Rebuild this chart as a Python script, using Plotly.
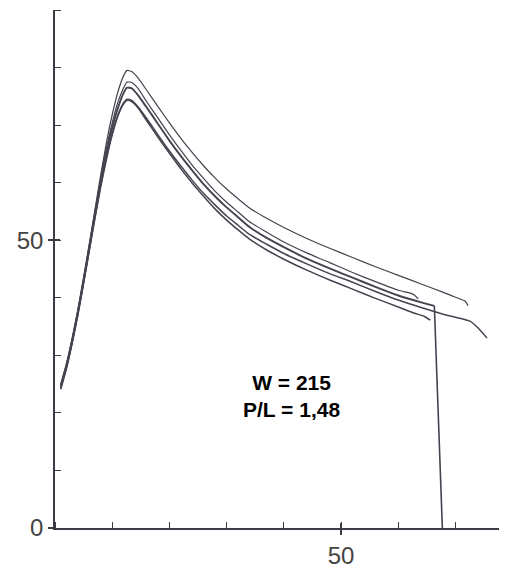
import plotly.graph_objects as go

# ---- data ----
x_grid = [1, 2, 3, 4, 5, 6, 7, 8, 9, 10, 11, 12, 12.6, 13.4, 14.5, 16, 18, 20, 22, 24, 26, 28,
          30, 32, 34, 37, 40, 44, 48, 52, 56, 60, 64, 68]

a_x = x_grid + [70, 71.7, 72.2]
a_y = [25.0, 28.6, 33.0, 38.0, 43.6, 49.4, 55.4, 61.4, 67.0, 71.8, 75.8, 78.6, 79.5, 79.3, 78.2,
       76.1, 73.2, 70.4, 67.7, 65.2, 62.9, 60.8, 58.9, 57.2, 55.6, 53.8, 52.2, 50.3, 48.6, 47.0,
       45.4, 43.9, 42.4, 40.9, 40.1, 39.4, 38.6]

b_x = x_grid[:32] + [62.1, 62.8, 63.5]
b_y = [24.8, 28.4, 32.8, 37.8, 43.3, 49.1, 55.0, 60.8, 66.0, 70.4, 74.0, 76.5, 77.5, 77.4, 76.4,
       74.1, 71.2, 68.3, 65.6, 63.0, 60.7, 58.5, 56.6, 54.9, 53.2, 51.4, 49.7, 47.8, 46.1, 44.4,
       42.8, 41.3, 40.8, 40.5, 39.8]

c_x = x_grid[:33] + [66.3]
c_y = [24.5, 28.1, 32.5, 37.5, 43.0, 48.8, 54.6, 60.3, 65.4, 69.6, 73.0, 75.6, 76.5, 76.4, 75.2,
       73.1, 70.2, 67.3, 64.6, 62.1, 59.7, 57.6, 55.7, 54.0, 52.3, 50.4, 48.8, 46.8, 45.1, 43.5,
       41.9, 40.4, 39.2, 38.6]
c_drop_x = [66.3, 67.7]
c_drop_y = [38.6, 0]

d_x = x_grid + [70.5, 72.6, 74.0, 75.5]
d_y = [24.3, 27.9, 32.3, 37.2, 42.7, 48.4, 54.1, 59.6, 64.4, 68.6, 71.8, 73.9, 74.5, 74.3, 73.2,
       71.2, 68.3, 65.5, 62.9, 60.4, 58.1, 56.1, 54.2, 52.6, 51.0, 49.3, 47.7, 45.9, 44.2, 42.7,
       41.1, 39.6, 38.3, 37.1, 36.5, 35.9, 34.7, 33.0]

e_x = x_grid[:32] + [62.9, 64.5, 65.6]
e_y = [24.1, 27.7, 32.1, 37.0, 42.5, 48.2, 53.9, 59.3, 64.1, 68.3, 71.6, 73.7, 74.3, 74.1, 73.0,
       70.8, 67.9, 65.1, 62.4, 59.9, 57.6, 55.4, 53.5, 51.8, 50.2, 48.3, 46.7, 44.8, 43.1, 41.5,
       39.9, 38.4, 37.3, 36.8, 36.1]

y_tickvals = [0, 50]
y_ticktext = ["0", "50"]
x_tickvals = [50]
x_ticktext = ["50"]
annotation_text = "<b>W = 215<br>P/L = 1,48</b>"

LINE = "#45434f"
AXIS = "#3c3c44"
TXT = "#444444"

fig = go.Figure()
for xs, ys, w in [(a_x, a_y, 1.2), (b_x, b_y, 1.2), (c_x, c_y, 1.9), (d_x, d_y, 1.5), (e_x, e_y, 1.5)]:
    fig.add_trace(go.Scatter(x=xs, y=ys, mode="lines",
                             line=dict(color=LINE, width=w, shape="spline", smoothing=0.5),
                             showlegend=False, hoverinfo="skip"))
fig.add_trace(go.Scatter(x=c_drop_x, y=c_drop_y, mode="lines",
                         line=dict(color=LINE, width=1.6), showlegend=False, hoverinfo="skip"))

fig.add_annotation(x=41.3, y=22.9, xref="x", yref="y", text=annotation_text, showarrow=False,
                   align="center", font=dict(family="Liberation Sans, Arial", size=21, color="#000"))

axis_common = dict(showgrid=False, zeroline=False, showline=True, linecolor=AXIS, linewidth=1.5,
                   ticks="outside", ticklen=5, tickwidth=1.5, tickcolor=AXIS, automargin=False,
                   tickfont=dict(family="Liberation Sans, Arial", size=24, color=TXT))

# the page body has an 8px default margin, so the plot area is shifted by -8px here
fig.update_layout(
    width=507, height=576,
    margin=dict(l=47, r=8, t=2, b=56, autoexpand=False),
    paper_bgcolor="white", plot_bgcolor="white",
    xaxis=dict(range=[0, 79], tickmode="array", tickvals=x_tickvals, ticktext=x_ticktext,
               minor=dict(ticks="inside", dtick=10, tick0=0, ticklen=6, tickwidth=1.3, tickcolor=AXIS),
               **axis_common),
    yaxis=dict(range=[0, 90], tickmode="array", tickvals=y_tickvals, ticktext=y_ticktext,
               minor=dict(ticks="inside", dtick=10, tick0=0, ticklen=6, tickwidth=1.3, tickcolor=AXIS),
               **axis_common),
    xaxis2=dict(range=[0, 79], overlaying="x", showline=False, showgrid=False, zeroline=False,
                tickmode="array", tickvals=x_tickvals, showticklabels=False, side="bottom",
                ticks="inside", ticklen=5, tickwidth=1.5, tickcolor=AXIS, anchor="y", automargin=False),
    yaxis2=dict(range=[0, 90], overlaying="y", showline=False, showgrid=False, zeroline=False,
                tickmode="array", tickvals=y_tickvals, showticklabels=False, side="left",
                ticks="inside", ticklen=5, tickwidth=1.5, tickcolor=AXIS, anchor="x", automargin=False),
)
fig.add_trace(go.Scatter(x=[None], y=[None], xaxis="x2", yaxis="y2", showlegend=False, hoverinfo="skip"))

fig.write_html("out.html")
